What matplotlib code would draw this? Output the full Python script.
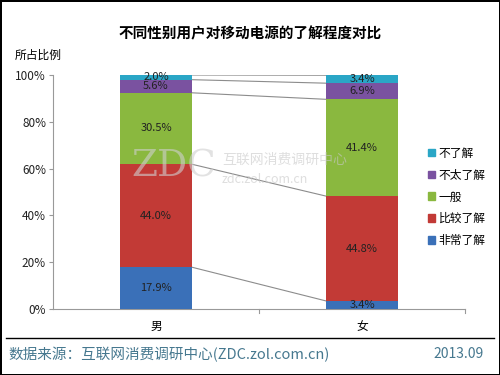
import numpy as np
import matplotlib
matplotlib.use('Agg')
import matplotlib.pyplot as plt
from matplotlib.patches import Rectangle
from matplotlib.lines import Line2D

plt.rcParams['font.family'] = ['Noto Sans CJK SC', 'DejaVu Sans']

categories = ['男', '女']
series_names = ['非常了解', '比较了解', '一般', '不太了解', '不了解']
series_values = [
    [17.9, 3.4],
    [44.0, 44.8],
    [30.5, 41.4],
    [5.6, 6.9],
    [2.0, 3.4],
]
series_colors = ['#3a70b8', '#c23a36', '#8ab83f', '#7a52a0', '#2aa6c6']
y_ticks = [0, 20, 40, 60, 80, 100]

fig = plt.figure(figsize=(5, 3.75), dpi=100)
fig.patch.set_edgecolor('black')
fig.patch.set_linewidth(2)
ax = fig.add_axes([0.106, 0.176, 0.824, 0.624])

x = np.arange(len(categories))
width = 0.345
bottoms = np.zeros(len(categories))
tops = []
for name, vals, col in zip(series_names, series_values, series_colors):
    vals = np.array(vals)
    ax.bar(x, vals, width, bottom=bottoms, color=col, label=name, zorder=3)
    for xi, b, v in zip(x, bottoms, vals):
        ax.text(xi, b + v / 2, f'{v:.1f}%', ha='center', va='center',
                fontsize=8, color='#222222', zorder=4)
    bottoms = bottoms + vals
    tops.append(bottoms.copy())

# series lines joining the segment tops
for t in tops:
    ax.plot([x[0] + width / 2, x[1] - width / 2], [t[0], t[1]],
            color='#8c8c8c', lw=0.8, zorder=2)

ax.set_xlim(-0.5, 1.5)
ax.set_ylim(0, 100)
ax.set_yticks(y_ticks)
ax.set_yticklabels([f'{v}%' for v in y_ticks], fontsize=8.5, color='#222222')
ax.set_xticks(x)
ax.set_xticklabels(categories, fontsize=8.5)
ax.tick_params(axis='x', length=0, pad=8)
ax.tick_params(axis='y', length=3, color='#999999', pad=2)
for xb in [0.5, 1.5]:
    ax.plot([xb, xb], [0, -1.5], color='#999999', lw=0.8, clip_on=False)
for s in ['top', 'right']:
    ax.spines[s].set_visible(False)
for s in ['left', 'bottom']:
    ax.spines[s].set_color('#999999')
    ax.spines[s].set_linewidth(0.8)

# watermark
fig.text(0.347, 0.555, 'ZDC', fontsize=27, color='#d0d0d0', alpha=0.6,
         family='DejaVu Serif', ha='center', va='center', zorder=5)
fig.text(0.444, 0.573, '互联网消费调研中心', fontsize=10, color='#c8c8c8', alpha=0.6,
         ha='left', va='center', zorder=5)
fig.text(0.444, 0.522, 'zdc.zol.com.cn', fontsize=9, color='#c8c8c8', alpha=0.6,
         ha='left', va='center', zorder=5)

fig.text(0.5, 0.912, '不同性别用户对移动电源的了解程度对比', fontsize=10.5,
         weight='bold', ha='center', va='center')
fig.text(0.03, 0.853, '所占比例', fontsize=8.5, ha='left', va='center')

handles = [Rectangle((0, 0), 1, 1, color=c) for c in series_colors]
leg = fig.legend(handles[::-1], series_names[::-1], loc='center left',
                 bbox_to_anchor=(0.835, 0.475), frameon=False, fontsize=8.5,
                 handlelength=0.6, handleheight=0.6, handletextpad=0.3,
                 labelspacing=0.75)

fig.add_artist(Line2D([0.012, 0.988], [0.098, 0.098], color='black', lw=1))
fig.text(0.016, 0.055, '数据来源：互联网消费调研中心(ZDC.zol.com.cn)', fontsize=10.5,
         color='#46788f', ha='left', va='center')
fig.text(0.968, 0.055, '2013.09', fontsize=10, color='#46788f',
         ha='right', va='center')

fig.savefig('out.png', dpi=100)
